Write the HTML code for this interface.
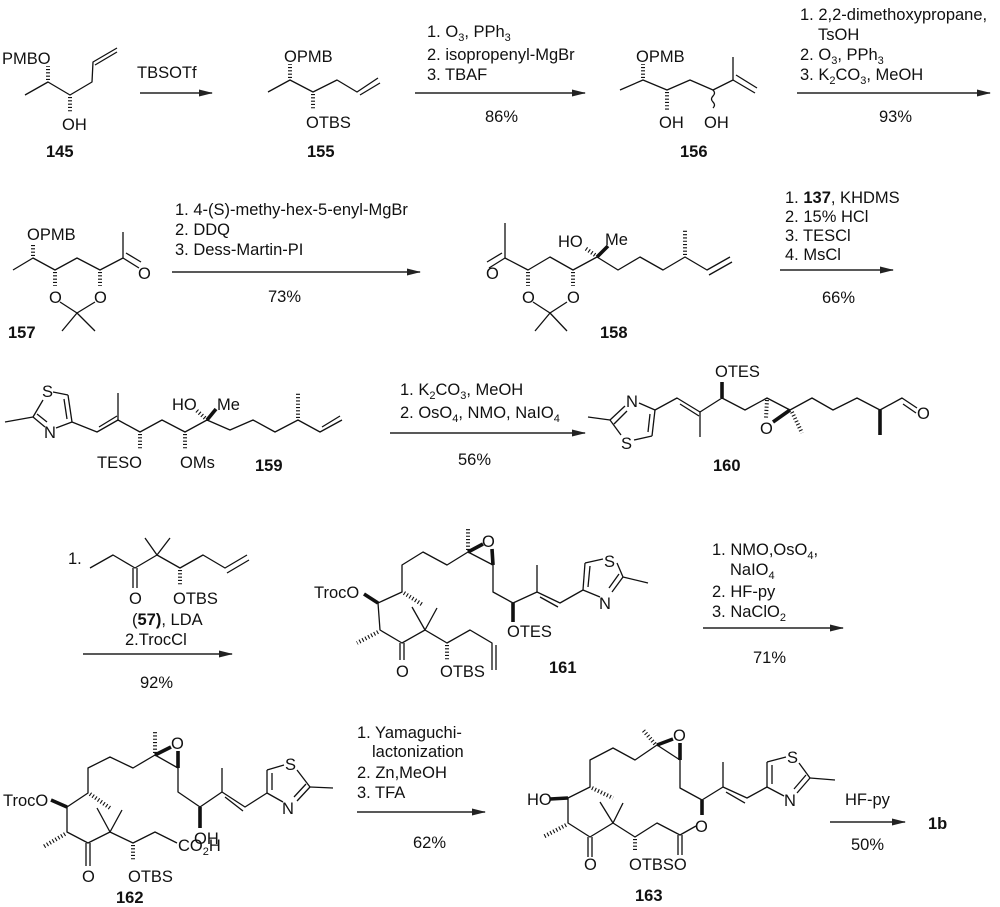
<!DOCTYPE html>
<html><head><meta charset="utf-8">
<style>
html,body{margin:0;padding:0;background:#fff;}
svg{display:block;}
text{font-family:"Liberation Sans",Arial,sans-serif;font-size:16.5px;fill:#111;}
.b{font-weight:bold;}
.s{font-size:11px;}
.l{stroke:#111;stroke-width:1.3;fill:none;stroke-linejoin:round;}
.h{stroke:#111;stroke-width:4;stroke-dasharray:1.1 2.2;fill:none;}
.w{stroke:#111;stroke-width:3.6;fill:none;}
.a{stroke:#222;stroke-width:1.4;}
</style></head><body>
<svg width="1000" height="907" viewBox="0 0 1000 907" xmlns="http://www.w3.org/2000/svg">
<defs><marker id="ar" markerWidth="14" markerHeight="8" refX="13" refY="4" orient="auto" markerUnits="userSpaceOnUse"><path d="M0,0.5 L14,4 L0,7.5 z" fill="#222"/></marker></defs>

<!-- 145 -->
<polyline class="l" points="25,95 48,82 70,95 92,82 93,62 117,48"/>
<line class="l" x1="95" y1="65" x2="117" y2="52"/>
<line class="h" x1="48" y1="80" x2="48" y2="66"/>
<line class="h" x1="70" y1="97" x2="70" y2="112"/>
<text x="2" y="64">PMBO</text>
<text x="62" y="130">OH</text>
<text class="b" x="46" y="157">145</text>
<line class="a" x1="140" y1="93" x2="212" y2="93" marker-end="url(#ar)"/>
<text x="137" y="78">TBSOTf</text>

<!-- 155 -->
<polyline class="l" points="268,92 290,80 313,92 337,80 357,92 378,78"/>
<line class="l" x1="360" y1="95" x2="380" y2="83"/>
<line class="h" x1="290" y1="78" x2="290" y2="64"/>
<line class="h" x1="313" y1="94" x2="313" y2="110"/>
<text x="284" y="62">OPMB</text>
<text x="306" y="128">OTBS</text>
<text class="b" x="307" y="157">155</text>
<line class="a" x1="415" y1="93" x2="585" y2="93" marker-end="url(#ar)"/>
<text x="427" y="37">1. O<tspan class="s" dy="4">3</tspan><tspan dy="-4">, PPh</tspan><tspan class="s" dy="4">3</tspan></text>
<text x="427" y="60">2. isopropenyl-MgBr</text>
<text x="427" y="80">3. TBAF</text>
<text x="485" y="122">86%</text>

<!-- 156 -->
<polyline class="l" points="620,90 643,80 667,90 690,80 713,90 733,80 733,57"/>
<line class="l" x1="733" y1="80" x2="755" y2="93"/>
<line class="l" x1="736" y1="75" x2="757" y2="88"/>
<line class="h" x1="643" y1="78" x2="643" y2="64"/>
<line class="h" x1="667" y1="92" x2="667" y2="110"/>
<path class="l" d="M713,90 q3,3 0,6 q-3,3 0,6 q3,3 0,6"/>
<text x="636" y="62">OPMB</text>
<text x="659" y="128">OH</text>
<text x="704" y="128">OH</text>
<text class="b" x="680" y="157">156</text>
<line class="a" x1="797" y1="93" x2="990" y2="93" marker-end="url(#ar)"/>
<text x="800" y="20">1. 2,2-dimethoxypropane,</text>
<text x="818" y="40">TsOH</text>
<text x="800" y="60">2. O<tspan class="s" dy="4">3</tspan><tspan dy="-4">, PPh</tspan><tspan class="s" dy="4">3</tspan></text>
<text x="800" y="80">3. K<tspan class="s" dy="4">2</tspan><tspan dy="-4">CO</tspan><tspan class="s" dy="4">3</tspan><tspan dy="-4">, MeOH</tspan></text>
<text x="879" y="122">93%</text>

<!-- 157 -->
<polyline class="l" points="13,270 33,258 55,270 77,258 100,270 123,258 123,232"/>
<line class="l" x1="123" y1="258" x2="139" y2="268"/>
<line class="l" x1="126" y1="253" x2="141" y2="262"/>
<line class="h" x1="33" y1="256" x2="33" y2="244"/>
<line class="h" x1="55" y1="272" x2="55" y2="286"/>
<line class="h" x1="100" y1="272" x2="100" y2="286"/>
<polyline class="l" points="60,302 77,313 95,302"/>
<polyline class="l" points="62,331 77,313 95,331"/>
<text x="27" y="240">OPMB</text>
<text x="138" y="279">O</text>
<text x="49" y="303">O</text>
<text x="94" y="303">O</text>
<text class="b" x="8" y="338">157</text>
<line class="a" x1="172" y1="272" x2="420" y2="272" marker-end="url(#ar)"/>
<text x="175" y="215">1. 4-(S)-methy-hex-5-enyl-MgBr</text>
<text x="175" y="235">2. DDQ</text>
<text x="175" y="255">3. Dess-Martin-PI</text>
<text x="268" y="302">73%</text>

<!-- 158 -->
<line class="l" x1="505" y1="223" x2="505" y2="258"/>
<line class="l" x1="505" y1="258" x2="489" y2="268"/>
<line class="l" x1="502" y1="253" x2="487" y2="262"/>
<polyline class="l" points="505,258 528,270 550,257 573,270 597,257 618,270 640,257 663,270 685,257 707,270 730,257"/>
<line class="l" x1="709" y1="275" x2="732" y2="262"/>
<line class="h" x1="685" y1="255" x2="685" y2="230"/>
<line class="h" x1="528" y1="272" x2="528" y2="286"/>
<line class="h" x1="573" y1="272" x2="573" y2="286"/>
<line class="h" x1="595" y1="255" x2="585" y2="248"/>
<line class="w" x1="597" y1="257" x2="608" y2="246"/>
<polyline class="l" points="533,302 550,313 567,302"/>
<polyline class="l" points="535,331 550,313 567,331"/>
<text x="486" y="279">O</text>
<text x="522" y="303">O</text>
<text x="567" y="303">O</text>
<text x="558" y="247">HO</text>
<text x="605" y="245">Me</text>
<text class="b" x="600" y="338">158</text>
<line class="a" x1="780" y1="270" x2="893" y2="270" marker-end="url(#ar)"/>
<text x="785" y="203">1. <tspan class="b">137</tspan>, KHDMS</text>
<text x="785" y="222">2. 15% HCl</text>
<text x="785" y="241">3. TESCl</text>
<text x="785" y="260">4. MsCl</text>
<text x="822" y="303">66%</text>

<!-- 159 -->
<line class="l" x1="5" y1="422" x2="33" y2="417"/>
<line class="l" x1="33" y1="417" x2="43" y2="400"/>
<line class="l" x1="53" y1="392" x2="68" y2="395"/>
<line class="l" x1="68" y1="395" x2="72" y2="422"/>
<line class="l" x1="64" y1="399" x2="67" y2="419"/>
<line class="l" x1="72" y1="422" x2="56" y2="428"/>
<line class="l" x1="33" y1="417" x2="45" y2="427"/>
<line class="l" x1="37" y1="414" x2="47" y2="422"/>
<polyline class="l" points="72,422 97,432 118,420 140,432 162,420 185,432 207,420 230,430 253,420 275,432 298,420 320,432 342,420"/>
<line class="l" x1="99" y1="427" x2="117" y2="416"/>
<line class="l" x1="322" y1="427" x2="340" y2="416"/>
<line class="l" x1="118" y1="420" x2="118" y2="393"/>
<line class="h" x1="298" y1="418" x2="298" y2="393"/>
<line class="h" x1="140" y1="434" x2="140" y2="450"/>
<line class="h" x1="185" y1="434" x2="185" y2="450"/>
<line class="h" x1="205" y1="418" x2="196" y2="410"/>
<line class="w" x1="207" y1="420" x2="216" y2="409"/>
<text x="42" y="397">S</text>
<text x="44" y="438">N</text>
<text x="97" y="468">TESO</text>
<text x="180" y="468">OMs</text>
<text x="172" y="410">HO</text>
<text x="217" y="410">Me</text>
<text class="b" x="255" y="471">159</text>
<line class="a" x1="390" y1="433" x2="585" y2="433" marker-end="url(#ar)"/>
<text x="400" y="395">1. K<tspan class="s" dy="4">2</tspan><tspan dy="-4">CO</tspan><tspan class="s" dy="4">3</tspan><tspan dy="-4">, MeOH</tspan></text>
<text x="400" y="418">2. OsO<tspan class="s" dy="4">4</tspan><tspan dy="-4">, NMO, NaIO</tspan><tspan class="s" dy="4">4</tspan></text>
<text x="458" y="465">56%</text>

<!-- 160 -->
<line class="l" x1="588" y1="417" x2="610" y2="420"/>
<line class="l" x1="610" y1="420" x2="625" y2="406"/>
<line class="l" x1="614" y1="424" x2="627" y2="411"/>
<line class="l" x1="639" y1="403" x2="655" y2="410"/>
<line class="l" x1="655" y1="410" x2="652" y2="436"/>
<line class="l" x1="650" y1="414" x2="648" y2="432"/>
<line class="l" x1="652" y1="436" x2="634" y2="440"/>
<line class="l" x1="610" y1="420" x2="621" y2="435"/>
<polyline class="l" points="655,410 677,398 700,412 722,398 745,410 767,398 790,410 812,398 833,410 857,398 880,410 902,398 917,408"/>
<line class="l" x1="680" y1="404" x2="699" y2="416"/>
<line class="l" x1="903" y1="404" x2="916" y2="413"/>
<line class="l" x1="700" y1="412" x2="700" y2="437"/>
<line class="w" x1="722" y1="398" x2="722" y2="382"/>
<line class="w" x1="880" y1="410" x2="880" y2="435"/>
<line class="h" x1="767" y1="400" x2="766" y2="418"/>
<line class="w" x1="790" y1="410" x2="773" y2="422"/>
<line class="h" x1="792" y1="412" x2="802" y2="433"/>
<text x="626" y="407">N</text>
<text x="621" y="449">S</text>
<text x="715" y="377">OTES</text>
<text x="760" y="434">O</text>
<text x="917" y="419">O</text>
<text class="b" x="713" y="471">160</text>

<!-- reagent 57 -->
<text x="68" y="564">1.</text>
<polyline class="l" points="90,568 113,555 135,568 157,555 180,568 203,555 225,568 247,555"/>
<line class="l" x1="227" y1="573" x2="249" y2="560"/>
<line class="l" x1="133" y1="568" x2="133" y2="588"/>
<line class="l" x1="137" y1="568" x2="137" y2="588"/>
<line class="l" x1="157" y1="555" x2="145" y2="538"/>
<line class="l" x1="157" y1="555" x2="170" y2="538"/>
<line class="h" x1="180" y1="570" x2="180" y2="586"/>
<text x="129" y="604">O</text>
<text x="173" y="604">OTBS</text>
<text x="132" y="625">(<tspan class="b">57)</tspan>, LDA</text>
<text x="125" y="645">2.TrocCl</text>
<line class="a" x1="83" y1="654" x2="232" y2="654" marker-end="url(#ar)"/>
<text x="140" y="688">92%</text>

<!-- 161 -->
<text x="314" y="598">TrocO</text>
<line class="w" x1="364" y1="594" x2="378" y2="603"/>
<polyline class="l" points="378,603 402,592 402,565 423,552 447,565 468,552 493,565 493,592 513,603 537,592 560,603 583,590"/>
<line class="l" x1="540" y1="597" x2="558" y2="607"/>
<line class="l" x1="537" y1="592" x2="537" y2="565"/>
<line class="h" x1="404" y1="593" x2="423" y2="605"/>
<line class="h" x1="468" y1="550" x2="468" y2="528"/>
<line class="w" x1="468" y1="552" x2="483" y2="544"/>
<line class="w" x1="493" y1="565" x2="492" y2="549"/>
<line class="w" x1="513" y1="603" x2="513" y2="622"/>
<text x="482" y="547">O</text>
<text x="507" y="637">OTES</text>
<line class="l" x1="583" y1="590" x2="585" y2="563"/>
<line class="l" x1="588" y1="587" x2="590" y2="566"/>
<line class="l" x1="585" y1="563" x2="603" y2="559"/>
<line class="l" x1="617" y1="563" x2="623" y2="577"/>
<line class="l" x1="623" y1="577" x2="648" y2="583"/>
<line class="l" x1="623" y1="577" x2="612" y2="592"/>
<line class="l" x1="619" y1="574" x2="609" y2="588"/>
<line class="l" x1="583" y1="590" x2="600" y2="597"/>
<text x="604" y="567">S</text>
<text x="599" y="609">N</text>
<polyline class="l" points="378,603 380,630 402,643 425,630 447,643 470,630 492,643 492,670"/>
<line class="l" x1="496" y1="645" x2="496" y2="670"/>
<line class="h" x1="378" y1="632" x2="357" y2="643"/>
<line class="l" x1="400" y1="643" x2="400" y2="660"/>
<line class="l" x1="404" y1="643" x2="404" y2="660"/>
<line class="l" x1="425" y1="630" x2="412" y2="607"/>
<line class="l" x1="425" y1="630" x2="437" y2="608"/>
<line class="h" x1="447" y1="645" x2="447" y2="660"/>
<text x="396" y="677">O</text>
<text x="440" y="677">OTBS</text>
<text class="b" x="549" y="673">161</text>
<line class="a" x1="703" y1="628" x2="843" y2="628" marker-end="url(#ar)"/>
<text x="712" y="555">1. NMO,OsO<tspan class="s" dy="4">4</tspan><tspan dy="-4">,</tspan></text>
<text x="730" y="575">NaIO<tspan class="s" dy="4">4</tspan></text>
<text x="712" y="597">2. HF-py</text>
<text x="712" y="617">3. NaClO<tspan class="s" dy="4">2</tspan></text>
<text x="753" y="663">71%</text>

<!-- 162 -->
<text x="3" y="806">TrocO</text>
<line class="w" x1="51" y1="800" x2="67" y2="807"/>
<polyline class="l" points="67,807 88,793 88,768 110,757 133,768 155,755 178,768 178,792 200,807 222,792 245,807 267,793"/>
<line class="l" x1="225" y1="797" x2="243" y2="811"/>
<line class="l" x1="222" y1="792" x2="222" y2="768"/>
<line class="h" x1="90" y1="794" x2="110" y2="808"/>
<line class="h" x1="155" y1="753" x2="155" y2="730"/>
<line class="w" x1="155" y1="755" x2="171" y2="747"/>
<line class="w" x1="178" y1="768" x2="178" y2="751"/>
<line class="w" x1="200" y1="807" x2="200" y2="828"/>
<text x="171" y="749">O</text>
<text x="194" y="844">OH</text>
<line class="l" x1="267" y1="793" x2="267" y2="770"/>
<line class="l" x1="272" y1="790" x2="272" y2="773"/>
<line class="l" x1="267" y1="770" x2="284" y2="765"/>
<line class="l" x1="297" y1="770" x2="310" y2="787"/>
<line class="l" x1="310" y1="787" x2="333" y2="788"/>
<line class="l" x1="310" y1="787" x2="297" y2="801"/>
<line class="l" x1="306" y1="784" x2="294" y2="797"/>
<line class="l" x1="267" y1="793" x2="283" y2="802"/>
<text x="285" y="770">S</text>
<text x="282" y="814">N</text>
<polyline class="l" points="67,807 67,832 88,843 110,832 133,843 155,832 177,843"/>
<line class="h" x1="65" y1="834" x2="43" y2="847"/>
<line class="l" x1="86" y1="843" x2="86" y2="866"/>
<line class="l" x1="90" y1="843" x2="90" y2="866"/>
<line class="l" x1="110" y1="832" x2="97" y2="808"/>
<line class="l" x1="110" y1="832" x2="122" y2="810"/>
<line class="h" x1="133" y1="845" x2="133" y2="860"/>
<text x="82" y="882">O</text>
<text x="128" y="882">OTBS</text>
<text x="178" y="851">CO<tspan class="s" dy="4">2</tspan><tspan dy="-4">H</tspan></text>
<text class="b" x="116" y="903">162</text>
<line class="a" x1="357" y1="812" x2="485" y2="812" marker-end="url(#ar)"/>
<text x="357" y="738">1. Yamaguchi-</text>
<text x="372" y="757">lactonization</text>
<text x="357" y="778">2. Zn,MeOH</text>
<text x="357" y="798">3. TFA</text>
<text x="413" y="848">62%</text>

<!-- 163 -->
<text x="527" y="805">HO</text>
<line class="w" x1="550" y1="799" x2="568" y2="798"/>
<polyline class="l" points="568,798 590,787 590,760 613,748 635,760 657,745 680,760 680,788 702,800 723,787 747,798 767,787"/>
<line class="l" x1="726" y1="792" x2="745" y2="803"/>
<line class="l" x1="723" y1="787" x2="723" y2="762"/>
<line class="h" x1="592" y1="788" x2="613" y2="798"/>
<line class="h" x1="655" y1="744" x2="643" y2="730"/>
<line class="w" x1="657" y1="745" x2="673" y2="739"/>
<line class="w" x1="680" y1="760" x2="680" y2="743"/>
<line class="w" x1="702" y1="800" x2="702" y2="815"/>
<text x="673" y="741">O</text>
<line class="l" x1="767" y1="787" x2="767" y2="762"/>
<line class="l" x1="772" y1="784" x2="772" y2="765"/>
<line class="l" x1="767" y1="762" x2="786" y2="757"/>
<line class="l" x1="799" y1="763" x2="810" y2="778"/>
<line class="l" x1="810" y1="778" x2="835" y2="780"/>
<line class="l" x1="810" y1="778" x2="797" y2="793"/>
<line class="l" x1="806" y1="775" x2="794" y2="789"/>
<line class="l" x1="767" y1="787" x2="784" y2="796"/>
<text x="787" y="763">S</text>
<text x="784" y="806">N</text>
<polyline class="l" points="568,798 568,823 590,837 613,823 635,837 657,823 680,835 696,826"/>
<text x="695" y="832">O</text>
<line class="h" x1="566" y1="825" x2="543" y2="837"/>
<line class="l" x1="588" y1="837" x2="588" y2="857"/>
<line class="l" x1="592" y1="837" x2="592" y2="857"/>
<line class="l" x1="678" y1="835" x2="678" y2="855"/>
<line class="l" x1="682" y1="835" x2="682" y2="855"/>
<line class="l" x1="613" y1="823" x2="600" y2="802"/>
<line class="l" x1="613" y1="823" x2="623" y2="803"/>
<line class="h" x1="635" y1="839" x2="635" y2="852"/>
<text x="584" y="870">O</text>
<text x="629" y="870">OTBSO</text>
<text class="b" x="635" y="901">163</text>
<line class="a" x1="830" y1="822" x2="905" y2="822" marker-end="url(#ar)"/>
<text x="845" y="805">HF-py</text>
<text x="851" y="850">50%</text>
<text class="b" x="928" y="829">1b</text>
</svg>
</body></html>
